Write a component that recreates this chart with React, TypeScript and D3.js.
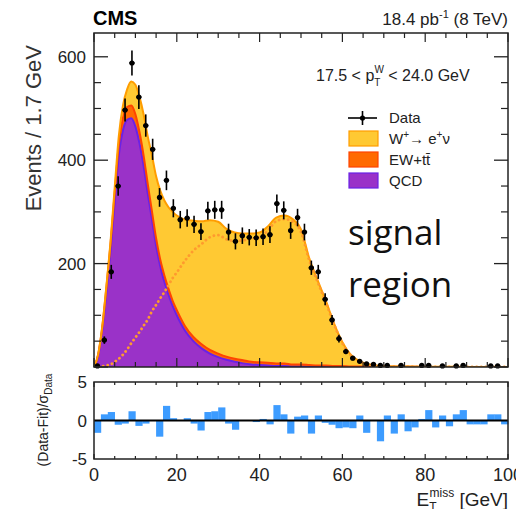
import React from "react";
import * as d3 from "d3";

// data points, 60 bins of 1.7 GeV between 0 and 100 GeV
const binCounts = [
  2, 52, 184, 350, 497, 588, 522, 467, 421, 328,
  361, 307, 285, 288, 276, 262, 302, 304, 304, 261,
  243, 254, 251, 250, 252, 256, 316, 303, 264, 289,
  261, 192, 184, 131, 91, 55, 30, 17, 11, 6,
  5, 3, 3, 0, 3, 0, 0, 3, 3, 0,
  2, 0, 2, 3, 0, 0, 0, 2, 2, 0,
];

// (Data-Fit)/sigma per bin
const pullValues = [
  -1.6, 0.8, 1.1, -0.55, -0.4, 1.2, -0.7, -0.4, 0, -2.1,
  1.9, 0.3, 0, 0.3, -0.4, -1.3, 1.1, 1.2, 1.7, -0.4,
  -1.2, 0, 0, -0.2, 0.2, -0.5, 2.0, 0.8, -1.7, 0.5,
  0.65, -1.7, 0.65, -0.3, -0.55, -1.0, -0.9, -1.0, 0.65, -1.6,
  0, -2.7, 0.65, -1.7, 0.8, -1.4, -0.9, 0.2, 1.35, -0.9,
  0.65, -0.75, 0.8, 1.35, -0.5, -0.5, -0.5, 0.8, 0.8, -0.5,
];

// fit components sampled along MET
const fitX = [
  0, 1, 2, 3, 4, 5, 6, 7, 8, 9, 10, 11, 12, 13, 14, 15, 16, 17, 18, 19, 20,
  22, 24, 26, 28, 30, 32, 34, 36, 38, 40, 42, 44, 46, 48, 50, 52, 54, 56, 58,
  60, 62, 64, 66, 68, 70, 75, 80, 90, 100,
];
const qcdFit = [
  0, 22, 72, 145, 225, 320, 410, 458, 478, 481, 465, 432, 388, 335, 285, 235, 195, 165, 140, 118, 100,
  70, 50, 36, 26, 19, 14, 10, 7, 5, 4, 3, 2, 2, 1, 1, 0, 0, 0, 0,
  0, 0, 0, 0, 0, 0, 0, 0, 0, 0,
];
const ewFit = [
  0, 2, 5, 9, 13, 17, 21, 24, 25, 25, 24, 22, 20, 18, 16, 14, 13, 12, 11, 10, 10,
  9, 8, 8, 7, 7, 6, 6, 6, 5, 5, 5, 5, 5, 4, 4, 4, 3, 3, 2,
  2, 1, 1, 1, 0.5, 0.5, 0.3, 0.2, 0.1, 0,
];
const wFit = [
  0, 0.5, 1.5, 3, 5, 10, 16, 24, 34, 46, 57, 68, 80, 92, 108, 120, 133, 145, 158, 172, 183,
  206, 225, 238, 251, 255, 247, 244, 245, 248, 251, 264, 282, 286, 281, 261, 206, 165, 125, 82,
  46, 23, 11, 5, 2.5, 1.5, 0.7, 0.3, 0.1, 0,
];

const xTickLabels = [0, 20, 40, 60, 80, 100];
const yTickLabels = [200, 400, 600];
const pullTickLabels = [-5, 0, 5];

const font = "'Liberation Sans', Arial, Helvetica, sans-serif";
const ink = "#222";

export default function App() {
  const x = d3.scaleLinear().domain([0, 100]).range([94, 508]);
  const y = d3.scaleLinear().domain([0, 646]).range([367, 33]);
  const yr = d3.scaleLinear().domain([-5, 5]).range([459, 382]);
  const binW = 100 / binCounts.length;

  const rows = fitX.map((v, i) => ({ x: v, qcd: qcdFit[i], ew: ewFit[i], w: wFit[i] }));
  const layers = d3.stack<any>().keys(["qcd", "ew", "w"])(rows);
  const area = d3
    .area<any>()
    .x((d) => x(d.data.x))
    .y0((d) => y(d[0]))
    .y1((d) => y(d[1]))
    .curve(d3.curveMonotoneX);
  const topLine = d3
    .line<any>()
    .x((d) => x(d.data.x))
    .y((d) => y(d[1]))
    .curve(d3.curveMonotoneX);
  const wLine = d3
    .line<number>()
    .x((_, i) => x(fitX[i]))
    .y((d) => y(d))
    .curve(d3.curveMonotoneX);

  const fills = ["#9a32c8", "#ff6a00", "#ffc933"];
  const edges = ["#6a22e6", "#ff4400", "#ff9d00"];

  const [x0, x1] = x.range();
  const [yb, yt] = y.range();
  const [rb, rt] = yr.range();

  const majorX = d3.range(0, 101, 20);
  const minorX = d3.range(0, 101, 5).filter((v) => v % 20 !== 0);
  const majorY = d3.range(0, 601, 200);
  const minorY = d3.range(0, 646, 50).filter((v) => v % 200 !== 0);

  return (
    <svg width={516} height={509} style={{ position: "absolute", left: 0, top: 0, background: "#fff" }}>
      <defs>
        <clipPath id="mainClip">
          <rect x={x0} y={yt} width={x1 - x0} height={yb - yt} />
        </clipPath>
      </defs>

      {/* stacked fit */}
      <g clipPath="url(#mainClip)">
        {layers.map((layer, i) => (
          <path key={"a" + i} d={area(layer) || ""} fill={fills[i]} />
        ))}
        {layers.map((layer, i) => (
          <path key={"l" + i} d={topLine(layer) || ""} fill="none" stroke={edges[i]} strokeWidth={2} />
        ))}
        <path
          d={wLine(wFit) || ""}
          fill="none"
          stroke="#ff9a2e"
          strokeWidth={2.8}
          strokeDasharray="0.1,4.5"
          strokeLinecap="round"
        />
      </g>

      {/* data */}
      <g>
        {binCounts.map((n, i) => {
          if (n <= 0) return null;
          const cx = x((i + 0.5) * binW);
          const cy = y(n);
          const err = Math.sqrt(n);
          return (
            <g key={"d" + i}>
              <line x1={cx} x2={cx} y1={y(n + err)} y2={y(Math.max(0, n - err))} stroke="#000" strokeWidth={1.6} />
              <line x1={x(i * binW) + 0.8} x2={x((i + 1) * binW) - 0.8} y1={cy} y2={cy} stroke="#000" strokeWidth={1.6} />
              <circle cx={cx} cy={cy} r={2.6} fill="#000" />
            </g>
          );
        })}
      </g>

      {/* main frame and ticks */}
      <rect x={x0} y={yt} width={x1 - x0} height={yb - yt} fill="none" stroke={ink} strokeWidth={1.5} />
      {majorY.map((v) => (
        <g key={"my" + v}>
          <line x1={x0} x2={x0 + 14} y1={y(v)} y2={y(v)} stroke={ink} strokeWidth={1.3} />
          <line x1={x1} x2={x1 - 14} y1={y(v)} y2={y(v)} stroke={ink} strokeWidth={1.3} />
        </g>
      ))}
      {minorY.map((v) => (
        <g key={"ny" + v}>
          <line x1={x0} x2={x0 + 7} y1={y(v)} y2={y(v)} stroke={ink} strokeWidth={1.2} />
          <line x1={x1} x2={x1 - 7} y1={y(v)} y2={y(v)} stroke={ink} strokeWidth={1.2} />
        </g>
      ))}
      {majorX.map((v) => (
        <g key={"mx" + v}>
          <line x1={x(v)} x2={x(v)} y1={yb} y2={yb - 9} stroke={ink} strokeWidth={1.2} />
          <line x1={x(v)} x2={x(v)} y1={yt} y2={yt + 9} stroke={ink} strokeWidth={1.2} />
        </g>
      ))}
      {minorX.map((v) => (
        <g key={"nx" + v}>
          <line x1={x(v)} x2={x(v)} y1={yb} y2={yb - 5} stroke={ink} strokeWidth={1.2} />
          <line x1={x(v)} x2={x(v)} y1={yt} y2={yt + 5} stroke={ink} strokeWidth={1.2} />
        </g>
      ))}
      {yTickLabels.map((v) => (
        <text key={"yl" + v} x={86} y={y(v) + 6} textAnchor="end" fontFamily={font} fontSize={17} fill={ink}>
          {v}
        </text>
      ))}

      {/* pull panel */}
      {pullValues.map((p, i) => (
        <rect
          key={"p" + i}
          x={x(i * binW)}
          width={x(binW) - x(0) + 0.3}
          y={Math.min(yr(p), yr(0))}
          height={Math.abs(yr(p) - yr(0))}
          fill="#3d9cff"
        />
      ))}
      <line x1={x0} x2={x1} y1={yr(0)} y2={yr(0)} stroke="#000" strokeWidth={2} />
      <rect x={x0} y={rt} width={x1 - x0} height={rb - rt} fill="none" stroke={ink} strokeWidth={1.5} />
      {majorX.map((v) => (
        <g key={"rmx" + v}>
          <line x1={x(v)} x2={x(v)} y1={rb} y2={rb - 5} stroke={ink} strokeWidth={1.2} />
          <line x1={x(v)} x2={x(v)} y1={rt} y2={rt + 5} stroke={ink} strokeWidth={1.2} />
        </g>
      ))}
      {minorX.map((v) => (
        <g key={"rnx" + v}>
          <line x1={x(v)} x2={x(v)} y1={rb} y2={rb - 3} stroke={ink} strokeWidth={1.2} />
          <line x1={x(v)} x2={x(v)} y1={rt} y2={rt + 3} stroke={ink} strokeWidth={1.2} />
        </g>
      ))}
      {pullTickLabels.map((v) => (
        <text key={"rl" + v} x={87} y={yr(v) + 6} textAnchor="end" fontFamily={font} fontSize={17} fill={ink}>
          {v}
        </text>
      ))}
      {xTickLabels.map((v) => (
        <text key={"xl" + v} x={x(v)} y={481} textAnchor="middle" fontFamily={font} fontSize={18} fill={ink}>
          {v}
        </text>
      ))}

      {/* titles */}
      <text x={93} y={25} fontFamily={font} fontSize={20} fontWeight="bold" fill="#000">
        CMS
      </text>
      <text x={508} y={25} textAnchor="end" fontFamily={font} fontSize={17} fill={ink}>
        18.4 pb<tspan dy={-7} fontSize={11}>-1</tspan>
        <tspan dy={7}> (8 TeV)</tspan>
      </text>
      <text transform="translate(41,45) rotate(-90)" textAnchor="end" fontFamily={font} fontSize={22} fill="#333">
        Events / 1.7 GeV
      </text>
      <text transform="translate(48,420) rotate(-90)" textAnchor="middle" fontFamily={font} fontSize={14} fill={ink}>
        (Data-Fit)/σ<tspan dy={4} fontSize={10}>Data</tspan>
      </text>
      <text x={508} y={506} textAnchor="end" fontFamily={font} fontSize={19} fill={ink}>
        E<tspan dy={5} fontSize={12}>T</tspan>
        <tspan dx={-7} dy={-14} fontSize={12}>miss</tspan>
        <tspan dy={9}> [GeV]</tspan>
      </text>

      {/* legend */}
      <text x={316} y={81} fontFamily={font} fontSize={16} fill={ink}>
        17.5 &lt; p<tspan dy={5} fontSize={10}>T</tspan>
        <tspan dx={-6} dy={-13} fontSize={10}>W</tspan>
        <tspan dy={8}> &lt; 24.0 GeV</tspan>
      </text>
      <g fontFamily={font} fontSize={15} fill={ink}>
        <line x1={348} x2={377} y1={118} y2={118} stroke="#000" strokeWidth={1.6} />
        <line x1={362.5} x2={362.5} y1={111} y2={125} stroke="#000" strokeWidth={1.6} />
        <circle cx={362.5} cy={118} r={2.6} fill="#000" />
        <text x={389} y={123}>Data</text>

        <rect x={349} y={131} width={29} height={15} fill="#ffc933" stroke="#ff9d00" strokeWidth={1.2} />
        <text x={389} y={144}>
          W<tspan dy={-6} fontSize={10}>+</tspan>
          <tspan dy={6}>→ e</tspan>
          <tspan dy={-6} fontSize={10}>+</tspan>
          <tspan dy={6}>ν</tspan>
        </text>

        <rect x={349} y={152} width={29} height={15} fill="#ff6a00" stroke="#ff4400" strokeWidth={1.2} />
        <text x={389} y={165}>EW+tt̄</text>

        <rect x={349} y={173} width={29} height={15} fill="#9a32c8" stroke="#6a22e6" strokeWidth={1.2} />
        <text x={389} y={186}>QCD</text>
      </g>

      <g fontFamily="'Open Sans', Lato, sans-serif" fontSize={35} fill="#111">
        <text x={348} y={245}>signal</text>
        <text x={348} y={297}>region</text>
      </g>
    </svg>
  );
}
